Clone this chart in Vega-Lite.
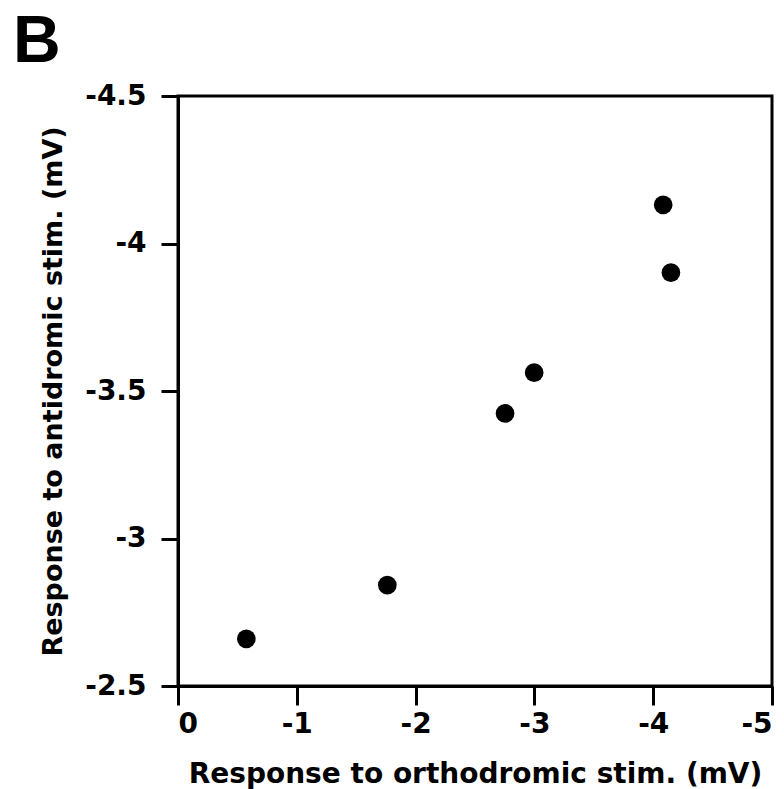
{
  "$schema": "https://vega.github.io/schema/vega-lite/v6.json",
  "width": 594,
  "height": 590,
  "autosize": "none",
  "padding": {"left": 178, "top": 96, "right": 12, "bottom": 103},
  "background": "white",
  "title": {"text": "B", "anchor": "start", "frame": "group", "dx": -165, "dy": 24, "offset": 30, "fontSize": 66, "fontWeight": "bold", "font": "Liberation Sans", "color": "black"},
  "config": {
    "view": {"stroke": "black", "strokeWidth": 3},
    "axis": {
      "domainColor": "black", "domainWidth": 3, "tickColor": "black", "tickWidth": 3,
      "labelFont": "DejaVu Sans", "labelFontSize": 28, "labelFontWeight": "bold", "labelColor": "black",
      "titleFont": "DejaVu Sans", "titleFontSize": 27, "titleFontWeight": "bold", "titleColor": "black",
      "grid": false
    }
  },
  "data": {"values": [
    {"ortho": -0.575, "anti": -2.660},
    {"ortho": -1.762, "anti": -2.842},
    {"ortho": -2.753, "anti": -3.424},
    {"ortho": -2.998, "anti": -3.562},
    {"ortho": -4.084, "anti": -4.131},
    {"ortho": -4.149, "anti": -3.901}
  ]},
  "mark": {"type": "point", "shape": "circle", "filled": true, "color": "black", "opacity": 1, "size": 350},
  "encoding": {
    "x": {"field": "ortho", "type": "quantitative", "title": "Response to orthodromic stim. (mV)",
      "scale": {"domain": [-5, 0], "reverse": true, "nice": false, "zero": false},
      "axis": {"values": [0, -1, -2, -3, -4, -5], "labelExpr": "'' + datum.value", "tickSize": 19, "labelPadding": 5, "titlePadding": 22, "titleFontSize": 28}},
    "y": {"field": "anti", "type": "quantitative", "title": "Response to antidromic stim. (mV)",
      "scale": {"domain": [-4.5, -2.5], "reverse": true, "nice": false, "zero": false},
      "axis": {"values": [-4.5, -4, -3.5, -3, -2.5], "labelExpr": "'' + datum.value", "tickSize": 17, "labelPadding": 15, "titlePadding": 17}}
  }
}
